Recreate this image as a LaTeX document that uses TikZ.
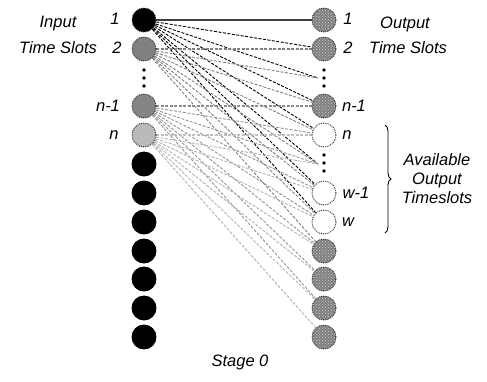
\documentclass[tikz,border=0pt]{standalone}
\usepackage{fontspec}
\setmainfont{Liberation Sans}
\usetikzlibrary{patterns,backgrounds,decorations.pathreplacing}
\begin{document}
\begin{tikzpicture}[x=1pt,y=-1pt,
  slot/.style={circle,minimum size=24pt,inner sep=0pt,draw=black!85,densely dotted,line width=0.9pt},
  insl/.style={slot,fill=#1},
  outg/.style={slot,preaction={fill=black!50},pattern=crosshatch dots,pattern color=white!80!black},
  outw/.style={slot,fill=white},
  lab/.style={font=\fontsize{16.5}{19}\selectfont\itshape,inner sep=1pt},
  vdot/.style={fill=black,minimum size=3.8pt,inner sep=0pt,circle},
  link/.style={line width=0.9pt,dash pattern=on 3pt off 1.5pt,draw=#1},
]
\useasboundingbox (0,0) rectangle (487,381);
% input slots
\node[insl=black] (in0) at (144,20) {};
\node[insl=black!50] (in1) at (144,49) {};
\coordinate (in2) at (144,78);
\node[insl=black!48] (in3) at (144,106) {};
\node[insl=black!27] (in4) at (144,135) {};
\foreach \k/\y in {5/164,6/193,7/222,8/251,9/279,10/308,11/337}
  \node[insl=black,draw=black,solid] (in\k) at (144,\y) {};
% output slots
\node[outg] (out0) at (324,20) {};
\node[outg] (out1) at (324,49) {};
\coordinate (out2) at (318,78);
\node[outg] (out3) at (324,106) {};
\node[outw] (out4) at (324,135) {};
\coordinate (out5) at (318,164);
\node[outw] (out6) at (324,193) {};
\node[outw] (out7) at (324,222) {};
\foreach \k/\y in {8/251,9/279,10/308,11/337}
  \node[outg] (out\k) at (324,\y) {};
% vertical dots
\foreach \x/\yc/\n in {144/78/a,324/78/b,324/163/c}{
  \node[vdot] (d\n1) at (\x,\yc-8) {};
  \node[vdot] (d\n2) at (\x,\yc) {};
  \node[vdot] (d\n3) at (\x,\yc+8) {};
}
% connectors
\begin{pgfonlayer}{background}
\draw[line width=1.3pt,black!75] (in0) -- (out0);
\foreach \k in {1,...,7} \draw[link=black] (in0) -- (out\k);
\draw[link=black!50,line width=1.8pt] (in1) -- (out1);
\foreach \k in {2,...,8} \draw[link=black!50] (in1) -- (out\k);
\draw[link=black!45,line width=1.8pt] (in3) -- (out3);
\foreach \k in {4,...,10} \draw[link=black!42] (in3) -- (out\k);
\draw[link=black!25,line width=1.8pt] (in4) -- (out4);
\foreach \k in {5,...,11} \draw[link=black!30] (in4) -- (out\k);
\end{pgfonlayer}
% labels left
\node[lab] (l1) at (115,19) {1};
\node[lab] (l2) at (117,48) {2};
\node[lab] (l3) at (108,106) {n-1};
\node[lab] (l4) at (114,135) {n};
\node[lab] (inp) at (58,24) {Input};
\node[lab] (its) at (58,48) {Time Slots};
% labels right
\node[lab] (r1) at (348,19) {1};
\node[lab] (r2) at (348,48) {2};
\node[lab] (r3) at (354,106) {n-1};
\node[lab] (r4) at (347,135) {n};
\node[lab] (r6) at (356,193) {w-1};
\node[lab] (r7) at (348,222) {w};
\node[lab] (outp) at (405,24) {Output};
\node[lab] (ots) at (408,48) {Time Slots};
\node[lab,align=center] (avail) at (437,179) {Available\\Output\\Timeslots};
\coordinate (bt) at (385,125);
\coordinate (bb) at (385,233);
\draw[line width=0.9pt,decorate,decoration={brace,amplitude=6pt}] (bt) -- (bb);
\node[lab] (stage) at (240,362) {Stage 0};
\end{tikzpicture}
\end{document}
